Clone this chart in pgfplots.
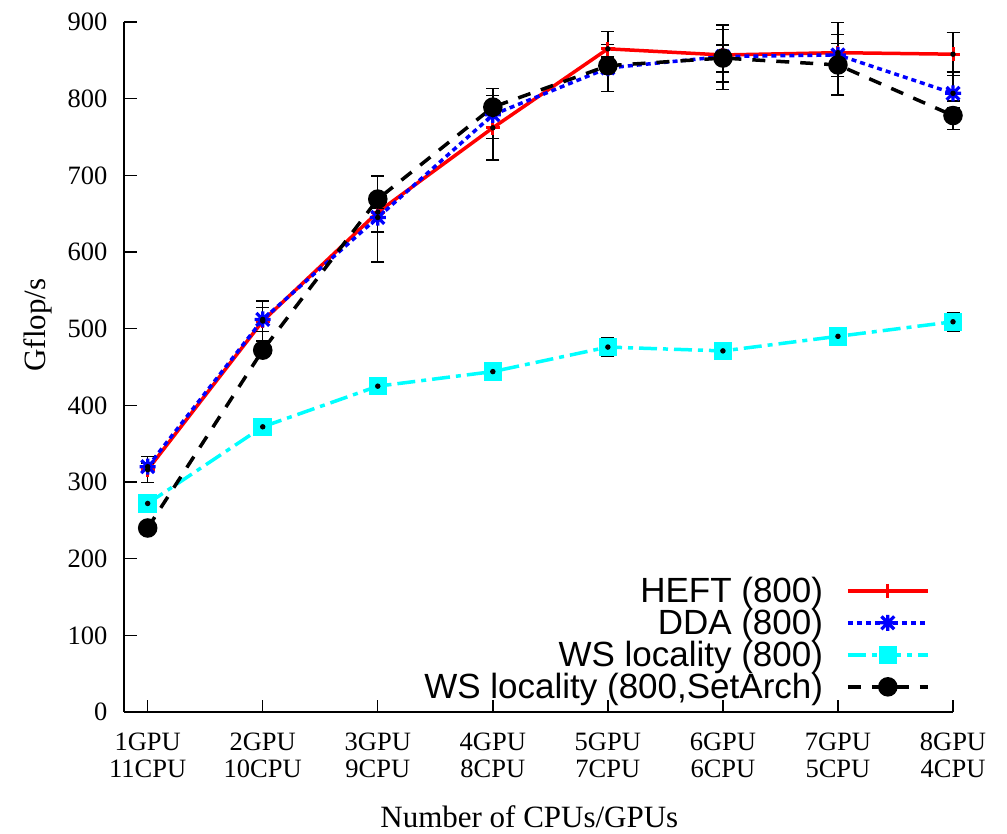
\documentclass[border=0pt]{standalone}
\usepackage{fontspec}
\setmainfont{Liberation Serif}
\newfontfamily\legfont{Liberation Sans}
\usepackage{pgfplots}
\usepackage{pgfplotstable}
\pgfplotsset{compat=1.18}
\definecolor{gpcyan}{RGB}{0,255,255}
\definecolor{gpred}{RGB}{255,0,0}
\definecolor{gpblue}{RGB}{0,0,255}

\pgfdeclareplotmark{gpstar}{%
  \pgfpathmoveto{\pgfqpoint{-\pgfplotmarksize}{0pt}}%
  \pgfpathlineto{\pgfqpoint{\pgfplotmarksize}{0pt}}%
  \pgfpathmoveto{\pgfqpoint{0pt}{-\pgfplotmarksize}}%
  \pgfpathlineto{\pgfqpoint{0pt}{\pgfplotmarksize}}%
  \pgfpathmoveto{\pgfqpoint{-.8\pgfplotmarksize}{-.8\pgfplotmarksize}}%
  \pgfpathlineto{\pgfqpoint{.8\pgfplotmarksize}{.8\pgfplotmarksize}}%
  \pgfpathmoveto{\pgfqpoint{-.8\pgfplotmarksize}{.8\pgfplotmarksize}}%
  \pgfpathlineto{\pgfqpoint{.8\pgfplotmarksize}{-.8\pgfplotmarksize}}%
  \pgfusepathqstroke}

\pgfplotstableread{
x y ep em
1 316 17 17
2 510 26 26
3 652 15 26
4 762 42 14
5 865 23 10
6 857 39 45
7 860 39 15
8 858 28 28
}\heft
\pgfplotstableread{
x y ep em
1 320 5 5
2 512 16 16
3 645 12 58
4 779 10 59
5 840 31 31
6 855 35 33
7 857 15 28
8 807 28 10
}\dda
\pgfplotstableread{
x y ep em
1 272 6 6
2 372 7 7
3 425 9 9
4 444 11 11
5 476 12 12
6 471 10 10
7 490 11 11
8 509 12 12
}\wsloc
\pgfplotstableread{
x y ep em
1 240 3 3
2 472 3 3
3 669 30 8
4 789 24 10
5 843 10 8
6 853 17 18
7 844 40 39
8 778 10 18
}\setarch

\begin{document}
\begin{tikzpicture}
\useasboundingbox (-124bp,-122bp) rectangle (883bp,712bp);
\begin{axis}[
  at={(0,0)}, anchor=south west,
  scale only axis, width=829bp, height=690bp,
  xmin=0.794, xmax=8, ymin=0, ymax=900,
  clip=false,
  axis x line*=bottom, axis y line*=left,
  axis line style={-, line width=1.4bp, black},
  xtick={1,...,8},
  xticklabels={{1GPU\\11CPU},{2GPU\\10CPU},{3GPU\\9CPU},{4GPU\\8CPU},{5GPU\\7CPU},{6GPU\\6CPU},{7GPU\\5CPU},{8GPU\\4CPU}},
  ytick={0,100,...,900},
  tick align=inside,
  major tick length=12.5bp,
  tick style={line width=1.4bp, black},
  /pgf/number format/assume math mode=true,
  ticklabel style={font=\fontsize{26.5bp}{26.5bp}\selectfont},
  xticklabel style={align=center, inner sep=0pt, anchor=north, yshift=-21bp},
  yticklabel style={inner sep=0pt, anchor=east, xshift=-16.5bp},
  xlabel={Number of CPUs/GPUs},
  ylabel={Gflop/s},
  label style={font=\fontsize{31bp}{31bp}\selectfont},
  xlabel style={at={(axis description cs:0.489,-0.152)}, anchor=center},
  ylabel style={at={(axis description cs:-0.104,0.561)}, anchor=center},
  legend plot pos=right,
  legend cell align=right,
  legend style={draw=none, fill=none, at={(axis description cs:0.972,0.013)}, anchor=south east,
    inner sep=0pt, row sep=0pt, /tikz/column sep=23bp,
    nodes={font=\legfont\fontsize{35bp}{35bp}\selectfont, inner sep=0pt, text height=28bp, text depth=4bp}},
  legend image code/.code={\draw[mark repeat=2,mark phase=2] plot coordinates {(0bp,0bp) (40bp,0bp) (80bp,0bp)};},
]
\addplot[gpred, line width=3.5bp, mark=+, mark size=7bp, mark options={solid, line width=3bp}]
  table[x=x,y=y] {\heft};
\addlegendentry{HEFT (800)}
\addplot[gpblue, line width=3.5bp, dash pattern=on 5bp off 4bp, mark=gpstar, mark size=8bp, mark options={solid, line width=3.2bp}]
  table[x=x,y=y] {\dda};
\addlegendentry{DDA (800)}
\addplot[gpcyan, line width=3.5bp, dash pattern=on 18bp off 6bp on 5bp off 6bp, mark=square*, mark size=7.5bp, mark options={solid}]
  table[x=x,y=y] {\wsloc};
\addlegendentry{WS locality (800)}
\addplot[black, line width=3.5bp, dash pattern=on 13bp off 11bp, mark=*, mark size=8bp, mark options={solid}]
  table[x=x,y=y] {\setarch};
\addlegendentry{WS locality (800,SetArch)}

\pgfplotsset{ebar/.style={forget plot, black, solid, line width=1.4bp, only marks, mark=none,
  error bars/.cd, y dir=both, y explicit, error mark=|,
  error bar style={black, solid, line width=1.4bp},
  error mark options={black, solid, line width=1.4bp, mark size=6.5bp}}}
\addplot[ebar] table[x=x,y=y,y error plus=ep,y error minus=em] {\heft};
\addplot[ebar] table[x=x,y=y,y error plus=ep,y error minus=em] {\dda};
\addplot[ebar] table[x=x,y=y,y error plus=ep,y error minus=em] {\wsloc};
\addplot[ebar] table[x=x,y=y,y error plus=ep,y error minus=em] {\setarch};
\end{axis}
\end{tikzpicture}
\end{document}
